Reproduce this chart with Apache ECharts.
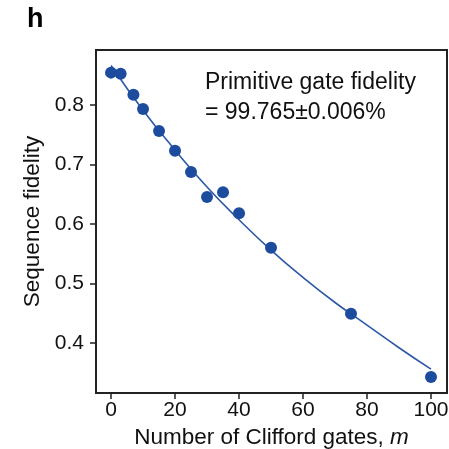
<!DOCTYPE html>
<html><head><meta charset="utf-8">
<script src="https://cdn.jsdelivr.net/npm/echarts@6/dist/echarts.min.js"></script>
<style>html,body{margin:0;padding:0;background:#fff}#c{width:449px;height:449px}</style>
</head><body><div id="c"></div>
<script>
const gatesM = [0, 3, 7, 10, 15, 20, 25, 30, 35, 40, 50, 75, 100];
const fidelity = [0.854, 0.852, 0.817, 0.793, 0.756, 0.723, 0.687, 0.645, 0.653, 0.618, 0.560, 0.449, 0.343];
const fitM = [0, 10, 20, 30, 40, 50, 60, 70, 80, 90, 100];
const fitF = [0.866, 0.791, 0.724, 0.662, 0.607, 0.556, 0.510, 0.468, 0.430, 0.392, 0.356];
const xTicks = [0, 20, 40, 60, 80, 100];
const yTicks = [0.4, 0.5, 0.6, 0.7, 0.8];

const chart = echarts.init(document.getElementById('c'));
const font = 'Liberation Sans, Arial, sans-serif';
chart.setOption({
  animation: false,
  backgroundColor: '#fff',
  grid: {left: 96, top: 50, right: 2, bottom: 56, outerBoundsMode: 'none', containLabel: false, show: true, borderColor: '#222', borderWidth: 2, backgroundColor: 'transparent'},
  graphic: [
    {type: 'text', left: 27, top: 6, style: {text: 'h', font: 'bold 27px ' + font, fill: '#000'}},
    {type: 'text', left: 205, top: 68, style: {text: 'Primitive gate fidelity\n= 99.765\u00b10.006%', font: '23px ' + font, fill: '#111', lineHeight: 30}}
  ],
  xAxis: {
    type: 'value', min: -4.7, max: 105,
    name: 'Number of Clifford gates, {i|m}', nameLocation: 'middle', nameGap: 31,
    nameTextStyle: {fontFamily: font, fontSize: 22.5, color: '#111', rich: {i: {fontStyle: 'italic', fontFamily: font, fontSize: 22.5, color: '#111'}}},
    axisLine: {show: true, onZero: false, lineStyle: {color: '#222', width: 2}},
    axisTick: {show: true, length: 6, lineStyle: {color: '#222', width: 1.5}, customValues: xTicks},
    axisLabel: {fontFamily: font, fontSize: 21, color: '#111', margin: 7, customValues: xTicks},
    splitLine: {show: false}
  },
  yAxis: {
    type: 'value', min: 0.316, max: 0.892,
    name: 'Sequence fidelity', nameLocation: 'middle', nameGap: 49,
    nameTextStyle: {fontFamily: font, fontSize: 22.5, color: '#111'},
    axisLine: {show: true, onZero: false, lineStyle: {color: '#222', width: 2}},
    axisTick: {show: true, length: 6, lineStyle: {color: '#222', width: 1.5}, customValues: yTicks},
    axisLabel: {fontFamily: font, fontSize: 21, color: '#111', margin: 12, customValues: yTicks, formatter: v => v.toFixed(1)},
    splitLine: {show: false}
  },
  series: [
    {type: 'line', data: fitM.map((m, i) => [m, fitF[i]]), smooth: true, showSymbol: false, lineStyle: {color: '#2d58a8', width: 1.6}, z: 2},
    {type: 'scatter', data: gatesM.map((m, i) => [m, fidelity[i]]), symbolSize: 12, itemStyle: {color: '#1d4c9e', opacity: 1}, z: 3}
  ]
});
</script></body></html>
